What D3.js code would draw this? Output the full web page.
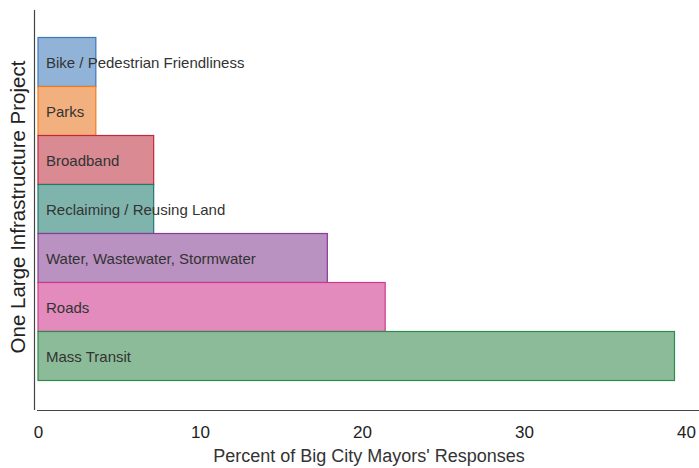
<!DOCTYPE html>
<html><head><meta charset="utf-8">
<script src="https://cdn.jsdelivr.net/npm/d3@7"></script>
<style>body{margin:0;background:#fff}svg{display:block}text{font-family:"Liberation Sans",Arial,sans-serif}</style>
</head><body><svg id="c" width="699" height="468"></svg>
<script>
const categories=["Bike / Pedestrian Friendliness","Parks","Broadband","Reclaiming / Reusing Land","Water, Wastewater, Stormwater","Roads","Mass Transit"];
const values=[3.57,3.57,7.14,7.14,17.86,21.43,39.29];
const fills=["#92b3d8","#f3b07f","#d98a92","#7fb4ad","#ba92c1","#e28bbc","#8bbb98"];
const strokes=["#3a78bd","#ef7b1f","#c2283b","#21796d","#8a3b9a","#d03a8e","#2e8b4a"];
const xTicks=[0,10,20,30,40];

const svg=d3.select("#c");
const x=d3.scaleLinear().domain([0,40]).range([38,686]);
const y=d3.scaleBand().domain(categories).range([37.5,380.5]).padding(0);

svg.selectAll("rect.bar").data(categories).join("rect").attr("class","bar")
 .attr("x",x(0)).attr("y",d=>y(d)).attr("width",(d,i)=>x(values[i])-x(0)).attr("height",y.bandwidth())
 .attr("fill",(d,i)=>fills[i]).attr("stroke",(d,i)=>strokes[i]).attr("stroke-width",1.2);

svg.selectAll("text.lab").data(categories).join("text").attr("class","lab")
 .attr("x",46).attr("y",d=>y(d)+y.bandwidth()/2+5.5).attr("font-size",15).attr("fill","#333").text(d=>d);

// axes
svg.append("line").attr("x1",34.5).attr("x2",34.5).attr("y1",10).attr("y2",410).attr("stroke","#444").attr("stroke-width",1.2);
svg.append("line").attr("x1",37).attr("x2",699).attr("y1",410.5).attr("y2",410.5).attr("stroke","#444").attr("stroke-width",1.2);
const xa=svg.append("g").attr("transform","translate(0,410)").call(d3.axisBottom(x).tickValues(xTicks).tickSize(0).tickPadding(16));
xa.select(".domain").remove();
xa.selectAll("text").attr("font-size",17).attr("fill","#222").attr("font-family","Liberation Sans, Arial, sans-serif");
svg.append("text").attr("x",369).attr("y",462).attr("text-anchor","middle").attr("font-size",18).attr("fill","#333").text("Percent of Big City Mayors' Responses");
svg.append("text").attr("transform","translate(25,207) rotate(-90)").attr("text-anchor","middle").attr("font-size",20.5).attr("fill","#222").text("One Large Infrastructure Project");
</script></body></html>
